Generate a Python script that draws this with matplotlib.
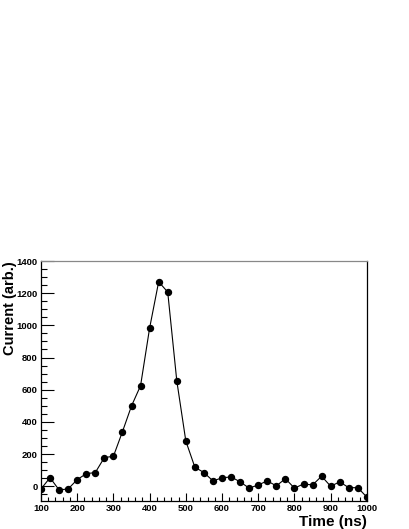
import matplotlib
matplotlib.use("Agg")
import matplotlib.pyplot as plt
import matplotlib.ticker as ticker

# time samples (ns) and measured current (arb.)
time_ns = [100, 125, 150, 175, 200, 225, 250, 275, 300, 325, 350, 375,
           400, 425, 450, 475, 500, 525, 550, 575, 600, 625, 650, 675,
           700, 725, 750, 775, 800, 825, 850, 875, 900, 925, 950, 975, 1000]
current = [-17, 53, -23, -17, 41, 78, 85, 178, 186, 339, 499, 625,
           983, 1271, 1207, 656, 281, 118, 85, 33, 52, 58, 27, -12,
           8, 33, 2, 47, -12, 14, 8, 62, 0, 27, -9, -9, -68]

x_ticks = [100, 200, 300, 400, 500, 600, 700, 800, 900, 1000]
y_ticks = [0, 200, 400, 600, 800, 1000, 1200, 1400]

plt.rcParams['font.family'] = ['Liberation Sans', 'DejaVu Sans']

fig = plt.figure(figsize=(4.09, 5.29), dpi=100)
ax = fig.add_axes([0.1002, 0.0535, 0.7968, 0.4531])

ax.plot(time_ns, current, color='black', linewidth=0.8,
        marker='o', markersize=4.3, markerfacecolor='black', markeredgecolor='black')

ax.set_xlim(100, 1000)
ax.set_ylim(-90, 1400)

ax.xaxis.set_major_locator(ticker.FixedLocator(x_ticks))
ax.xaxis.set_minor_locator(ticker.MultipleLocator(20))
ax.yaxis.set_major_locator(ticker.FixedLocator(y_ticks))
ax.yaxis.set_minor_locator(ticker.MultipleLocator(50))

ax.tick_params(which='both', direction='in', top=False, right=False, width=0.8,
               labelsize=6.8, pad=2.5)
ax.tick_params(axis='x', which='major', length=6)
ax.tick_params(axis='x', which='minor', length=3)
ax.tick_params(axis='y', which='major', length=9)
ax.tick_params(axis='y', which='minor', length=4.5)
for lab in ax.get_xticklabels() + ax.get_yticklabels():
    lab.set_fontweight('bold')

ax.spines['top'].set_color('#888888')
for s in ['left', 'bottom', 'right']:
    ax.spines[s].set_color('black')
for s in ax.spines.values():
    s.set_linewidth(0.9)

ax.set_xlabel('Time (ns)', fontsize=11, fontweight='bold', loc='right', labelpad=1)
ax.set_ylabel('Current (arb.)', fontsize=10.5, fontweight='bold', loc='top')
ax.yaxis.set_label_coords(-0.074, 1.0)

fig.savefig('out.png', dpi=100)
